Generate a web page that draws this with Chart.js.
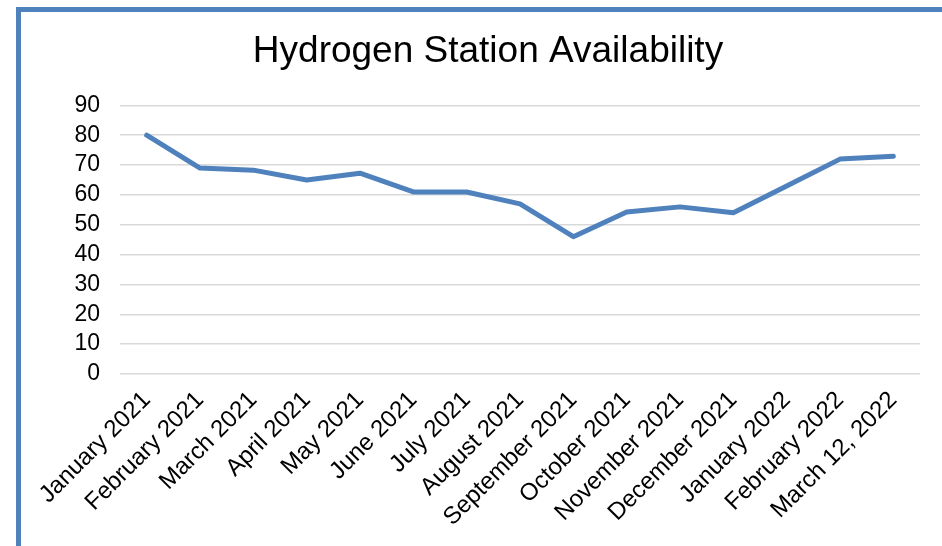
<!DOCTYPE html>
<html>
<head>
<meta charset="utf-8">
<title>Hydrogen Station Availability</title>
<script src="https://cdn.jsdelivr.net/npm/chart.js@4.4.0/dist/chart.umd.min.js"></script>
<style>
  html, body {
    margin: 0;
    padding: 0;
    width: 942px;
    height: 546px;
    overflow: hidden;
    background: #ffffff;
  }
  #frame {
    position: absolute;
    left: 16px;
    top: 7px;
    width: 1000px;
    height: 600px;
    border-top: 5px solid #4f81bd;
    border-left: 5px solid #4f81bd;
  }
  #wrap {
    position: absolute;
    left: 0;
    top: 0;
    width: 942px;
    height: 546px;
  }
</style>
</head>
<body>
<div id="frame"></div>
<div id="wrap"><canvas id="myChart"></canvas></div>
<script>
'use strict';

let months = [
  'January 2021', 'February 2021', 'March 2021', 'April 2021', 'May 2021',
  'June 2021', 'July 2021', 'August 2021', 'September 2021', 'October 2021',
  'November 2021', 'December 2021', 'January 2022', 'February 2022', 'March 12, 2022'
];
let availability = [80, 69, 68.3, 65, 67.3, 61, 61, 57, 46, 54.3, 56, 54, 63, 72, 73];
let yTicks = [0, 10, 20, 30, 40, 50, 60, 70, 80, 90];

let fontFamily = '"Liberation Sans", Arial, sans-serif';

let chartStuff = {
  type: 'line',
  data: {
    labels: months,
    datasets: [{
      label: 'Availability',
      data: availability,
      borderColor: '#4f81bd',
      backgroundColor: '#4f81bd',
      borderWidth: 5,
      borderCapStyle: 'round',
      borderJoinStyle: 'round',
      pointRadius: 0,
      tension: 0,
      fill: false
    }]
  },
  options: {
    responsive: false,
    animation: false,
    layout: {
      // left padding shifts the title centre to match the original
      padding: { left: 34, right: 0, top: 0, bottom: 0 }
    },
    plugins: {
      legend: { display: false },
      tooltip: { enabled: false },
      title: {
        display: true,
        text: 'Hydrogen Station Availability',
        color: '#000000',
        font: { family: fontFamily, size: 37, weight: 'normal' },
        padding: { top: 30, bottom: 31 }
      }
    },
    scales: {
      x: {
        offset: true,
        grid: { display: false, drawTicks: false },
        border: { display: false },
        ticks: {
          color: '#000000',
          font: { family: fontFamily, size: 24 },
          minRotation: 45,
          maxRotation: 45,
          autoSkip: false,
          padding: 12
        },
        afterFit: function (scale) {
          scale.height = 172;
          scale.paddingLeft = 0;
          scale.paddingRight = 0;
        }
      },
      y: {
        min: 0,
        max: 90,
        grid: { color: '#d9d9d9', lineWidth: 1.5, drawTicks: false },
        border: { display: false },
        ticks: {
          color: '#000000',
          font: { family: fontFamily, size: 23 },
          padding: 20,
          stepSize: 10,
          autoSkip: false
        },
        afterBuildTicks: function (scale) {
          scale.ticks = yTicks.map(v => ({ value: v }));
        },
        afterFit: function (scale) {
          scale.width = 86;
        }
      },
      // empty axis on the right, only keeps the plot away from the edge
      spacer: {
        type: 'linear',
        position: 'right',
        grid: { display: false, drawTicks: false },
        border: { display: false },
        ticks: { display: false },
        afterFit: function (scale) {
          scale.width = 22;
        }
      }
    }
  }
};

const canvas = document.getElementById('myChart');
canvas.width = 942;
canvas.height = 546;
const ctx = canvas.getContext('2d');
// eslint-disable-next-line no-undef
new Chart(ctx, chartStuff);
</script>
</body>
</html>
